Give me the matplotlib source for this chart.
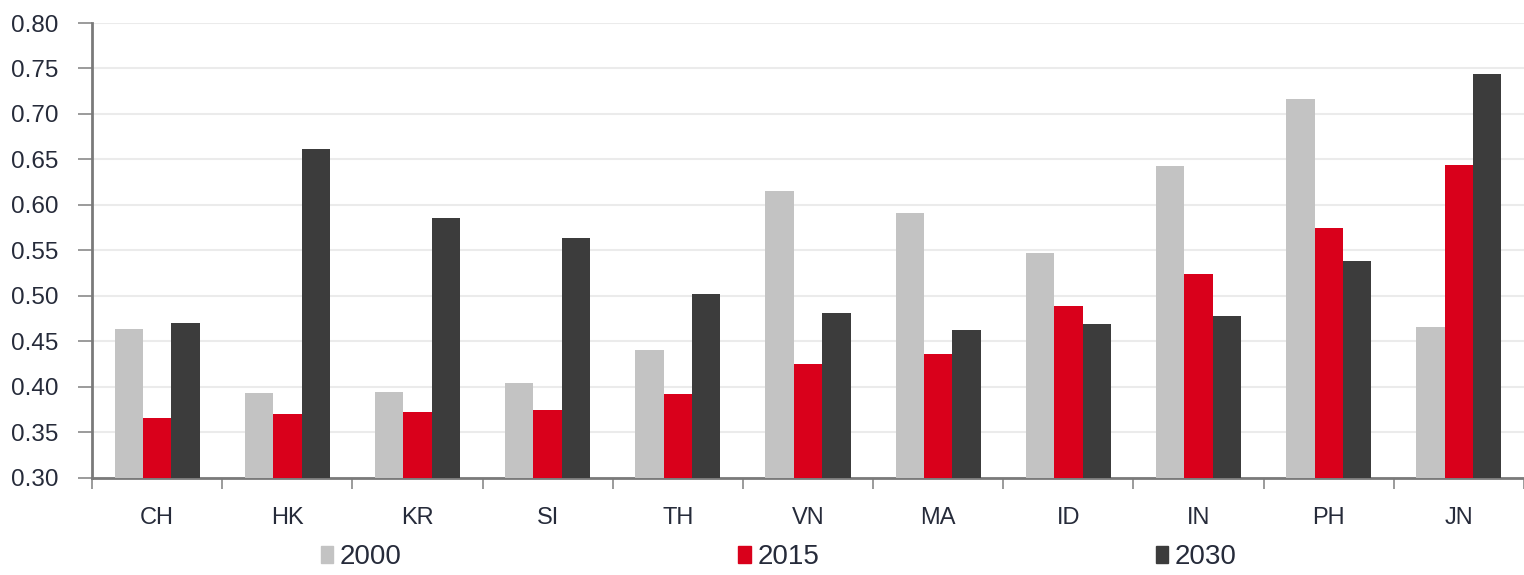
import matplotlib.pyplot as plt
from matplotlib.patches import Patch
import numpy as np

plt.rcParams['font.family'] = ['Liberation Sans', 'DejaVu Sans']

countries = ['CH', 'HK', 'KR', 'SI', 'TH', 'VN', 'MA', 'ID', 'IN', 'PH', 'JN']
years = ['2000', '2015', '2030']
v2000 = [0.464, 0.393, 0.394, 0.404, 0.440, 0.615, 0.591, 0.547, 0.643, 0.716, 0.466]
v2015 = [0.366, 0.370, 0.372, 0.375, 0.392, 0.425, 0.436, 0.489, 0.524, 0.575, 0.644]
v2030 = [0.470, 0.661, 0.586, 0.564, 0.502, 0.481, 0.462, 0.469, 0.478, 0.538, 0.744]
colors = ['#c3c3c3', '#d9001b', '#3c3c3c']
txt = '#262b3a'

fig = plt.figure(figsize=(15.24, 5.75), dpi=100)
ax = fig.add_axes([0.0604, 0.169, 0.9396, 0.791])

x = np.arange(len(countries))
w = 0.218
for i, vals in enumerate([v2000, v2015, v2030]):
    ax.bar(x + (i - 1) * w, np.array(vals) - 0.30, w, bottom=0.30,
           color=colors[i], zorder=3)

ax.set_ylim(0.30, 0.80)
ax.set_xlim(-0.5, len(countries) - 0.5)
ax.set_yticks(np.arange(0.30, 0.801, 0.05))
ax.set_yticklabels([f'{t:.2f}' for t in np.arange(0.30, 0.801, 0.05)])
ax.grid(axis='y', color='#ebebeb', linewidth=1.5, zorder=0)

ax.set_xticks(x)
ax.set_xticklabels(countries)
ax.set_xticks(np.arange(-0.5, len(countries)), minor=True)
ax.tick_params(axis='x', which='major', length=0, pad=21, labelsize=17, labelcolor=txt)
ax.tick_params(axis='x', which='minor', length=8, width=1.2, color='#8a8a8a')
ax.tick_params(axis='y', length=10, width=1.2, color='#8a8a8a', pad=14,
               labelsize=17.5, labelcolor=txt)

for s in ['top', 'right']:
    ax.spines[s].set_visible(False)
for s in ['left', 'bottom']:
    ax.spines[s].set_color('#7a7a7a')
    ax.spines[s].set_linewidth(2)

handles = [Patch(color=c, label=y) for c, y in zip(colors, years)]
fig.legend(handles=handles, loc='center', bbox_to_anchor=(0.511, 0.031), ncol=3,
           frameon=False, fontsize=20, handlelength=0.45, handleheight=0.6,
           handletextpad=0.25, columnspacing=12.1, labelcolor=txt)

fig.savefig('out.png', dpi=100)
